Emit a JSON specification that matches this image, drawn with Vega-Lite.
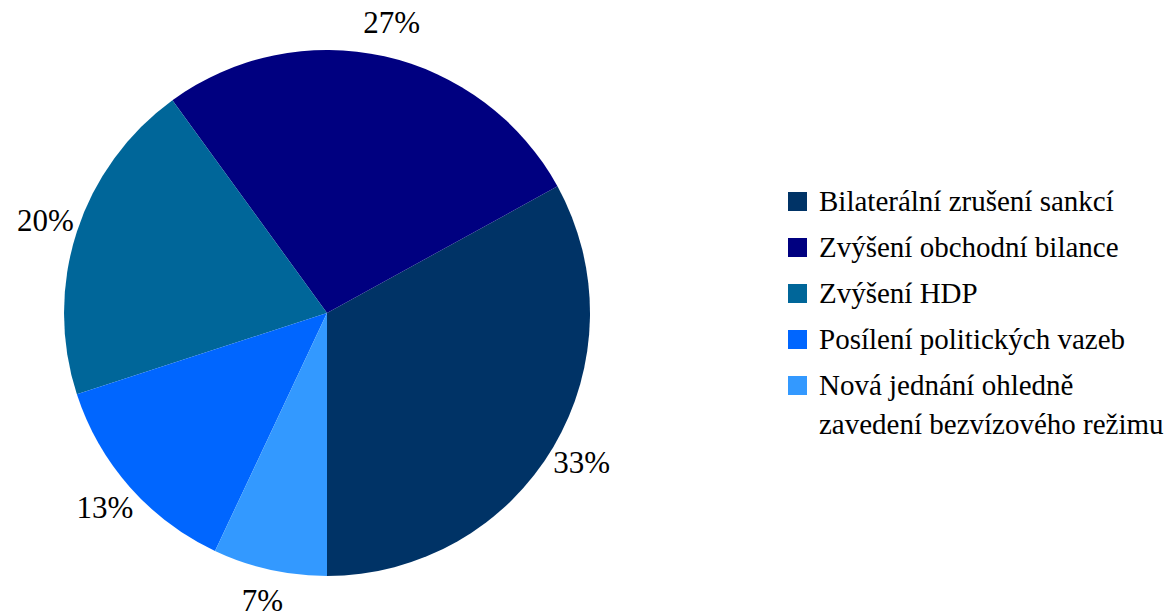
{
  "$schema": "https://vega.github.io/schema/vega-lite/v6.json",
  "width": 654,
  "height": 604,
  "padding": {"top": 8, "left": 0, "right": 0, "bottom": 0},
  "autosize": {"type": "pad"},
  "background": "white",
  "data": {
    "values": [
      {"category": "Bilaterální zrušení sankcí", "value": 33, "label": "33%"},
      {"category": "Zvýšení obchodní bilance", "value": 27, "label": "27%"},
      {"category": "Zvýšení HDP", "value": 20, "label": "20%"},
      {"category": "Posílení politických vazeb", "value": 13, "label": "13%"},
      {"category": "Nová jednání ohledně zavedení bezvízového režimu", "value": 7, "label": "7%"}
    ]
  },
  "encoding": {
    "theta": {"field": "value", "type": "quantitative", "stack": true, "scale": {"range": [3.14159265, 9.42477796]}},
    "order": {"field": "value", "sort": "ascending"},
    "color": {
      "field": "category",
      "type": "nominal",
      "scale": {
        "domain": ["Bilaterální zrušení sankcí", "Zvýšení obchodní bilance", "Zvýšení HDP", "Posílení politických vazeb", "Nová jednání ohledně zavedení bezvízového režimu"],
        "range": ["#003366", "#000080", "#006699", "#0066FF", "#3399FF"]
      },
      "legend": {
        "title": null,
        "orient": "none",
        "legendX": 783,
        "legendY": 176,
        "symbolType": "square",
        "symbolSize": 361,
        "symbolStrokeWidth": 0,
        "labelFont": "Liberation Serif",
        "labelFontSize": 29,
        "labelColor": "black",
        "labelOffset": 7,
        "labelLimit": 600,
        "rowPadding": 16,
        "labelExpr": "datum.label == 'Nová jednání ohledně zavedení bezvízového režimu' ? ['Nová jednání ohledně', 'zavedení bezvízového režimu'] : datum.label",
        "encode": {"labels": {"update": {"lineHeight": {"value": 39}}}}
      }
    }
  },
  "layer": [
    {"mark": {"type": "arc", "outerRadius": 263}},
    {
      "mark": {"type": "text", "radius": 296, "font": "Liberation Serif", "fontSize": 31, "baseline": "middle", "align": "center"},
      "encoding": {"text": {"field": "label"}, "color": {"value": "black"}}
    }
  ],
  "config": {"view": {"stroke": null}}
}
